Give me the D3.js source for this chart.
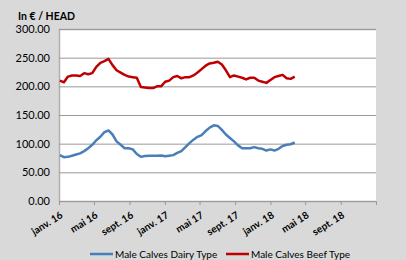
<!DOCTYPE html>
<html>
<head>
<meta charset="utf-8">
<script src="https://cdn.jsdelivr.net/npm/d3@7"></script>
<style>
  body { margin: 0; background: #d9d9d9; }
  svg { display: block; }
  .axis text { font-family: Lato, "Liberation Sans", sans-serif; fill: #000; }
</style>
</head>
<body>
<div id="chart"></div>
<script>
// Data: biweekly prices, in € / head
let dates = [
  "2016-01-04","2016-01-18","2016-02-01","2016-02-15","2016-02-29","2016-03-14","2016-03-28","2016-04-11",
  "2016-04-25","2016-05-09","2016-05-23","2016-06-06","2016-06-20","2016-07-04","2016-07-18","2016-08-01",
  "2016-08-15","2016-08-29","2016-09-12","2016-09-26","2016-10-10","2016-10-24","2016-11-07","2016-11-21",
  "2016-12-05","2016-12-19","2017-01-02","2017-01-16","2017-01-30","2017-02-13","2017-02-27","2017-03-13",
  "2017-03-27","2017-04-10","2017-04-24","2017-05-08","2017-05-22","2017-06-05","2017-06-19","2017-07-03",
  "2017-07-17","2017-07-31","2017-08-14","2017-08-28","2017-09-11","2017-09-25","2017-10-09","2017-10-23",
  "2017-11-06","2017-11-20","2017-12-04","2017-12-18","2018-01-01","2018-01-15","2018-01-29","2018-02-12",
  "2018-02-26","2018-03-12","2018-03-26"
];
let dairy = [
  80, 76.5, 77, 79, 81, 83, 87, 92, 98, 106, 112, 120, 123, 116, 104, 98,
  92, 92, 90, 82, 77, 78.5, 79, 79, 79, 79.5, 78, 79, 80, 84, 87, 94,
  101, 107, 112, 115, 122, 128, 132, 131, 124, 116, 110, 104, 97, 92, 92, 92,
  94, 92, 91, 88, 90, 88, 91, 96, 98, 99, 102
];
let beef = [
  210, 207, 217, 219, 219, 218, 223, 221, 223, 234, 241, 244, 248, 237, 228, 224,
  220, 217, 216, 215, 199, 198, 197, 197, 200, 200, 208, 210, 216, 218, 214, 216,
  216, 219, 224, 230, 236, 240, 241, 243, 238, 228, 216, 219, 217, 215, 212, 215,
  215, 210, 208, 206, 211, 216, 218, 220, 214, 213, 217
];
let yTicks = [0, 50, 100, 150, 200, 250, 300];
let xTickDates = ["2016-01-01","2016-05-01","2016-09-01","2017-01-01","2017-05-01","2017-09-01","2018-01-01","2018-05-01","2018-09-01"];
let xTickLabels = ["janv. 16","mai 16","sept. 16","janv. 17","mai 17","sept. 17","janv. 18","mai 18","sept. 18"];
let seriesNames = ["Male Calves Dairy Type", "Male Calves Beef Type"];
let seriesColors = ["#4a7ebb", "#c00000"];

let W = 406, H = 260;
let margin = {top: 29, left: 59, bottom: 59, right: 30};
let width = W - margin.left - margin.right;
let height = H - margin.top - margin.bottom;

let parse = d3.timeParse("%Y-%m-%d");
let xScale = d3.scaleTime()
  .domain([parse("2016-01-01"), parse("2019-01-01")])
  .range([0, width]);
let yScale = d3.scaleLinear()
  .domain([0, 300])
  .range([height, 0]);

let svg = d3.select("#chart").append("svg")
    .attr("width", W)
    .attr("height", H);

svg.append("text")
    .attr("x", 18)
    .attr("y", 20)
    .attr("font-family", "Lato, 'Liberation Sans', sans-serif")
    .attr("font-weight", "bold")
    .attr("font-size", "10.5px")
    .text("In € / HEAD");

let g = svg.append("g")
    .attr("transform", `translate(${margin.left}, ${margin.top})`);

g.append("rect")
    .attr("width", width)
    .attr("height", height)
    .attr("fill", "#fff");

// y axis with gridlines
let yAxis = d3.axisLeft(yScale)
    .tickValues(yTicks)
    .tickSize(-width)
    .tickPadding(9)
    .tickFormat(d3.format(".2f"));
let yg = g.append("g").attr("class", "y axis").call(yAxis);
yg.select(".domain").attr("stroke", "#b0b0b0").attr("stroke-width", 1.5);
yg.selectAll(".tick line").attr("stroke", "#999");
yg.selectAll(".tick text").attr("font-size", "11px");

// x axis
let xAxis = d3.axisBottom(xScale)
    .tickValues(xTickDates.map(parse))
    .tickSize(4)
    .tickFormat((d, i) => xTickLabels[i]);
let xg = g.append("g")
    .attr("class", "x axis")
    .attr("transform", `translate(0, ${height})`)
    .call(xAxis);
xg.select(".domain").attr("stroke", "#999");
xg.selectAll(".tick line").attr("stroke", "#999");
xg.selectAll(".tick text")
    .attr("font-size", "10px")
    .attr("font-weight", "bold")
    .attr("text-anchor", "end")
    .attr("dy", null)
    .attr("y", null)
    .attr("transform", "translate(4, 16) rotate(-32)");

let line = d3.line()
    .x((d, i) => xScale(parse(dates[i])))
    .y(d => yScale(d));

[dairy, beef].forEach((s, k) => {
  g.append("path")
      .datum(s)
      .attr("fill", "none")
      .attr("stroke", seriesColors[k])
      .attr("stroke-width", 2.5)
      .attr("stroke-linejoin", "round")
      .attr("d", line);
});

// legend
let legendX = [90, 226];
seriesNames.forEach((name, k) => {
  let lg = svg.append("g").attr("transform", `translate(${legendX[k]}, 254)`);
  lg.append("line")
      .attr("x1", 0).attr("x2", 23)
      .attr("stroke", seriesColors[k])
      .attr("stroke-width", 2.5);
  lg.append("text")
      .attr("x", 25)
      .attr("y", 3.5)
      .attr("font-family", "Lato, 'Liberation Sans', sans-serif")
      .attr("font-size", "10px")
      .text(name);
});
</script>
</body>
</html>
